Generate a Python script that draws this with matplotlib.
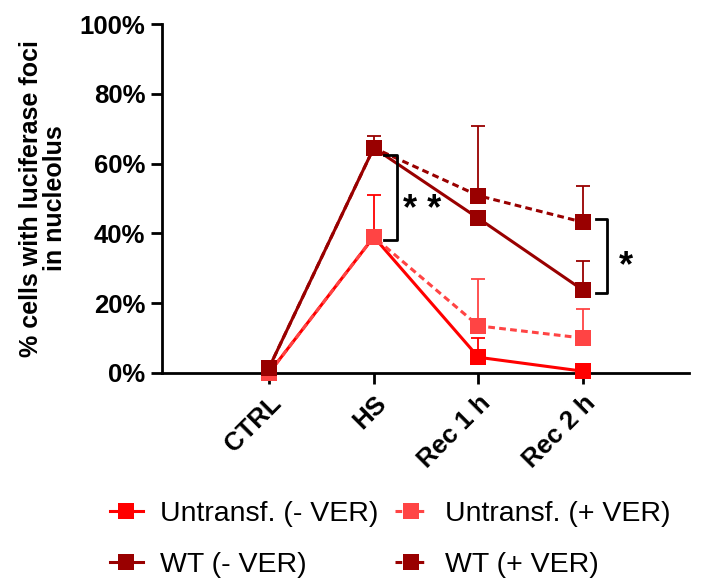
import matplotlib
matplotlib.use("Agg")
import matplotlib.pyplot as plt
import numpy as np

plt.rcParams['font.family'] = ['Liberation Sans', 'DejaVu Sans']

categories = ["CTRL", "HS", "Rec 1 h", "Rec 2 h"]
untr_minus = [0.0, 39.0, 4.5, 0.5]
untr_minus_err = [0.0, 12.0, 5.5, 0.0]
untr_plus = [0.0, 39.0, 13.5, 10.0]
untr_plus_err = [0.0, 0.0, 13.5, 8.3]
wt_minus = [1.5, 64.5, 44.3, 23.7]
wt_minus_err = [0.0, 3.5, 0.0, 8.5]
wt_plus = [1.5, 64.5, 50.8, 43.2]
wt_plus_err = [0.0, 0.0, 20.0, 10.5]
yticks = [0, 20, 40, 60, 80, 100]

c_red = "#FF0000"
c_light = "#FF4444"
c_dark = "#990000"

fig = plt.figure(figsize=(7.16, 5.80), dpi=100)
ax = fig.add_axes([162/716, 1-373/580, (689-162)/716, (373-24)/580])
x = np.arange(len(categories))

series = [
    (untr_minus, untr_minus_err, c_red, "-", "Untransf. (- VER)", 3),
    (untr_plus, untr_plus_err, c_light, (0, (2.2, 1.4)), "Untransf. (+ VER)", 3),
    (wt_minus, wt_minus_err, c_dark, "-", "WT (- VER)", 4),
    (wt_plus, wt_plus_err, c_dark, (0, (2.2, 1.4)), "WT (+ VER)", 4),
]
handles = {}
for vals, err, col, ls, lab, z in series:
    e = np.array(err)
    ax.errorbar(x, vals, yerr=[np.zeros_like(e), e], fmt='none', ecolor=col,
                elinewidth=1.3, capsize=5, capthick=1.3, zorder=z, clip_on=False)
    ln, = ax.plot(x, vals, color=col, linestyle=ls, linewidth=2.2, marker='s',
                  markersize=12, markeredgewidth=0, zorder=z + 0.5, clip_on=False)
    handles[lab] = ln

ax.set_xlim(-1.022, 4.01)
ax.set_ylim(0, 100)
ax.set_yticks(yticks)
ax.set_yticklabels([f"{v}%" for v in yticks], fontsize=18.5, fontweight='bold')
ax.set_xticks(x)
ax.set_xticklabels(categories, fontsize=18.5, fontweight='bold', rotation=45,
                   ha='right', rotation_mode='anchor')
for s in ['top', 'right']:
    ax.spines[s].set_visible(False)
for s in ['left', 'bottom']:
    ax.spines[s].set_linewidth(2)
ax.tick_params(axis='both', width=2, length=8, direction='out')
ax.tick_params(axis='x', pad=5)
ax.tick_params(axis='y', pad=4)
ax.set_ylabel("% cells with luciferase foci\nin nucleolus", fontsize=18,
              fontweight='bold', labelpad=9, linespacing=1.0)

# significance brackets
ax.plot([1.10, 1.22, 1.22, 1.10], [62.5, 62.5, 38.0, 38.0], color='black',
        lw=2, clip_on=False, zorder=6)
ax.text(1.46, 46.5, "* *", fontsize=26, fontweight='bold', ha='center', va='center')
ax.plot([3.12, 3.23, 3.23, 3.12], [44.0, 44.0, 23.0, 23.0], color='black',
        lw=2, clip_on=False, zorder=6)
ax.text(3.405, 30.5, "*", fontsize=26, fontweight='bold', ha='center', va='center')

order = ["Untransf. (- VER)", "WT (- VER)", "Untransf. (+ VER)", "WT (+ VER)"]
leg = fig.legend([handles[k] for k in order], order, ncol=2, loc='upper left',
                 bbox_to_anchor=(110/716, 1-501/580), frameon=False, fontsize=20.5,
                 handlelength=1.15, columnspacing=0.58, labelspacing=0.88,
                 handletextpad=0.6, borderpad=0, borderaxespad=0)
for h in leg.legend_handles:
    h.set_markersize(11)

fig.savefig("out.png", dpi=100)
